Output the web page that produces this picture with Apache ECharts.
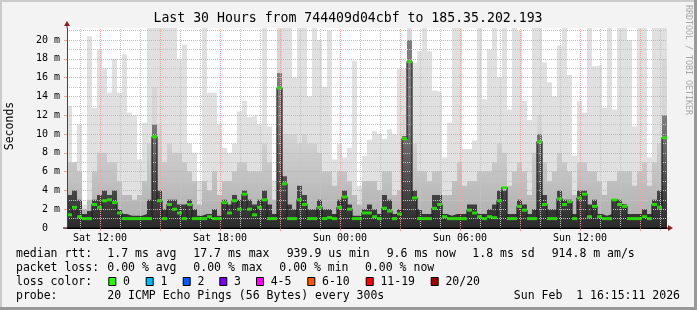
<!DOCTYPE html>
<html><head><meta charset="utf-8">
<script src="https://cdn.jsdelivr.net/npm/echarts@6/dist/echarts.min.js"></script>
<style>html,body{margin:0;padding:0;background:#f3f3f3}#c{width:697px;height:310px}</style>
</head><body><div id="c"></div>
<script>
// ---- data (milliseconds), 15-minute bins starting Sat 10:21 ----
const startHour = 10.35;          // hours since Sat 00:00
const binHours = 0.25;
const yMax = 21.28;
const minRtt = 0.85;
const maxRtt = [
 13,7,11,2.5,20.4,12.8,19,17,14.4,18,14.4,18.5,12.3,12,7.3,11.2,21.5,21.5,21.5,21.5,
 21.5,21.5,18,19.5,9,8,5,21.5,14.4,14.4,11,8.5,8,9,12.4,13.5,11.8,12,11,21.5,
 10.8,5,21.5,21.5,21.5,16,21.5,21.5,14,21.5,20,15,21,7.3,9,7.5,8.5,17.8,4.5,7.7,
 9.4,10.3,10,9.5,10.5,10,16.9,17,21.5,17.6,18.8,21.5,18.8,14.6,14.4,7.5,11.2,21.5,21.5,8.4,
 8.4,9.3,21.5,13.7,19,21.5,16,21.5,12.6,21.5,21,13.5,11.5,21.5,21.5,17.6,15.5,14,19.4,21.5,
 16.3,7.7,13.5,12.3,21.5,17.2,17.4,12.8,21.5,12.6,21.5,21.5,20,10.8,21.5,21.5,7.5,21.5,21.5,21.5
];
const upperRtt = [
 7,7,6,2,3,6,8,8,7,7,5,3.5,3.5,3,3.5,5,9,15,11,7,
 9,8,8,7,6,5,2.5,5,4,6,3.5,5,5,6,7,7,6,6,6,9,
 7,3,21,10,10,10,9,10,9,9,8,6,6,4.5,6,6,5,3.5,2.5,5,
 5,5,4,6,6,3.5,4,12,21,9,6,6,5,6,6,3.5,3.5,5,7,4.5,
 5,5,6,6,6,7,9,8,4.5,6,7,6,3.5,8,12,7,5,6,8,7,
 6,3.5,7,7,6,6,5,3.5,5,5,6,6,6,4.5,6,7,4.5,7,9,18
];
const darkRtt = [
 3.5,4,3,1.5,1.8,3,3.5,4,3.5,4,2,1.5,1.3,1.3,1.3,1.5,3,11,4,2,
 3,3,2.5,2.5,3,2,1.3,1.5,1.5,2,1.3,3,2.5,3.5,3,4,3,2.5,3,4,
 2.5,1.5,16.5,5.5,2.5,2,4.5,3.5,2,2,3,2,2,1.5,3,4,2.5,1.3,1.3,2,
 2.5,2,1.5,3.5,3,1.5,2,9.8,20,4,2,1.5,1.5,3.5,3.5,1.5,1.3,1.5,1.5,1.5,
 2.5,2.5,1.5,1.5,2,2.5,4,4,1.5,1.5,3,2.5,1.5,2,10,3.5,2,2,4,3,
 3,1.5,4,4,2.5,3,1.5,1.3,1.5,3,3,2.5,1.5,1.5,1.5,2,1.5,3,4,12
];
const medianRtt = [
 1.4,2.2,1.2,1.0,1.0,2.5,2.2,2.9,3.0,2.7,1.6,1.0,1.0,1.0,1.0,1.0,1.0,9.7,2.9,1.0,
 2.5,2.0,1.6,1.0,2.5,1.0,1.0,1.0,1.2,1.0,1.0,2.7,1.6,2.9,2.0,3.6,2.0,1.4,2.2,3.0,
 1.0,1.0,14.9,4.7,1.0,1.0,3.0,2.5,1.0,1.0,2.2,1.0,1.1,1.0,2.2,3.3,2.0,1.0,1.0,1.6,
 1.6,1.2,1.0,2.1,1.8,1.0,1.5,9.5,17.7,3.2,1.0,1.0,1.0,2.1,2.5,1.2,1.0,1.0,1.0,1.0,
 1.9,1.6,1.2,1.0,1.2,1.1,2.9,4.3,1.0,1.0,2.3,1.9,1.0,1.0,9.2,2.5,1.0,1.0,3.1,2.5,
 2.8,1.0,3.2,3.6,1.2,2.3,1.2,1.0,1.0,3.0,2.5,2.3,1.0,1.0,1.0,1.2,1.0,2.5,2.2,9.6
];
const yTickValues = [0,2,4,6,8,10,12,14,16,18,20];
const xLabelHours = [12,18,24,30,36];
const xLabelTexts = ['Sat 12:00','Sat 18:00','Sun 00:00','Sun 06:00','Sun 12:00'];
const title = 'Last 30 Hours from 744409d04cbf to 185.35.202.193';
const lossLabels = ['0','1','2','3','4-5','6-10','11-19','20/20'];
const lossColors = ['#26ff00','#00b8ff','#0059ff','#7e00ff','#ff00ff','#ff5500','#ff0000','#a10000'];

// ---- build ----
const endHour = startHour + maxRtt.length * binHours;
function stepData(arr){
  const d = arr.map((v,i)=>[startHour + i*binHours, v]);
  d.push([endHour, arr[arr.length-1]]);
  return d;
}
function areaSeries(arr, color, z){
  return {type:'line', step:'end', data:stepData(arr), symbol:'none', showSymbol:false,
    lineStyle:{width:0}, areaStyle:{color, opacity:1}, z, silent:true};
}
function vGrad(yBottom, yTop, c0, c1){
  return {type:'linear', x:0, y:yBottom, x2:0, y2:yTop, global:true,
    colorStops:[{offset:0, color:c0},{offset:1, color:c1}]};
}
const hourTicks = [], majorTicks = [];
for (let h = Math.ceil(startHour); h <= endHour; h++) { hourTicks.push(h); if (h % 3 === 0) majorTicks.push(h); }
const gridLines = [];
const red = '#f4a0a0', gray = '#c4c4c4';
for (let v = 1; v < yMax; v++) gridLines.push({yAxis:v, lineStyle:{color: v%2===0 ? red : gray, type:[1,1], width:1}});
hourTicks.forEach(h => gridLines.push({xAxis:h, lineStyle:{color: h%3===0 ? red : gray, type:[1,1], width:1}}));

const mono = 'DejaVu Sans Mono';
const chart = echarts.init(document.getElementById('c'));
chart.setOption({
  animation:false,
  backgroundColor:'#f3f3f3',
  grid:{left:67, right:30, top:28, bottom:82, show:true, backgroundColor:'#ffffff', borderWidth:0},
  xAxis:[{
    type:'value', min:startHour, max:endHour, z:10,
    axisLine:{show:true, lineStyle:{color:'#000', width:1}},
    axisTick:{show:true, length:3, lineStyle:{color:red}, customValues:majorTicks},
    axisLabel:{show:true, customValues:xLabelHours, margin:5, color:'#000', fontFamily:mono, fontSize:10,
      formatter:v=>{const k = xLabelHours.indexOf(Math.round(v)); return k>=0 && Math.abs(v-Math.round(v))<1e-6 ? xLabelTexts[k] : '';}},
    splitLine:{show:false}
  },{
    type:'value', min:startHour, max:endHour, position:'bottom', z:9,
    axisLine:{show:false}, axisLabel:{show:false},
    axisTick:{show:true, length:3, lineStyle:{color:gray}, customValues:hourTicks.filter(h=>h%3!==0)},
    splitLine:{show:false}
  }],
  yAxis:{
    type:'value', min:0, max:yMax, interval:2, z:10,
    axisLine:{show:true, lineStyle:{color:'#444'}},
    axisTick:{show:true, length:3, lineStyle:{color:red}, customValues:yTickValues},
    axisLabel:{show:true, customValues:yTickValues, margin:7, color:'#000', fontFamily:mono, fontSize:10,
      formatter:v=> yTickValues.indexOf(v) < 0 ? '' : (v===0 ? '0  ' : v + ' m')},
    splitLine:{show:false}
  },
  series:[
    areaSeries(maxRtt, '#e0e0e0', 2),
    areaSeries(upperRtt, vGrad(228, 130, '#acacac', '#d6d6d6'), 3),
    areaSeries(darkRtt, vGrad(226, 120, '#2c2c2c', '#7c7c7c'), 4),
    {type:'line', data:[[startHour,0]], symbol:'none', showSymbol:false, lineStyle:{width:0}, z:5, silent:true,
      markArea:{silent:true, itemStyle:{color:'#ffffff'}, data:[[{xAxis:startHour, yAxis:0},{xAxis:endHour, yAxis:minRtt}]]}},
    {type:'line', data:[[startHour,0]], symbol:'none', showSymbol:false, lineStyle:{width:0}, z:6, silent:true,
      markLine:{silent:true, symbol:['none','none'], label:{show:false}, animation:false, data:gridLines}},
    {type:'line', step:'end', data:stepData(medianRtt), symbol:'none', showSymbol:false,
      lineStyle:{color:'#202020', width:1.2}, z:7, silent:true},
    {type:'scatter', data:medianRtt.map((v,i)=>[startHour+(i+0.5)*binHours, v]), symbol:'rect', symbolSize:[5,3],
      itemStyle:{color:lossColors[0]}, z:8, silent:true}
  ]
});

// ---- texts & decorations ----
const tl = chart.convertToPixel({gridIndex:0}, [startHour, yMax]);
const br = chart.convertToPixel({gridIndex:0}, [endHour, 0]);
const fs = 11.5;
function txt(x, y, s, extra){ return Object.assign({type:'text', x, y, style:{text:s, fontFamily:mono, fontSize:fs, fill:'#000', textVerticalAlign:'middle', textAlign:'left'}}, extra||{}); }
const g = [];
g.push({type:'rect', shape:{x:0,y:0,width:697,height:2}, style:{fill:'#cbcbcb'}});
g.push({type:'rect', shape:{x:0,y:0,width:2,height:310}, style:{fill:'#cbcbcb'}});
g.push({type:'rect', shape:{x:0,y:307,width:697,height:3}, style:{fill:'#999999'}});
g.push({type:'rect', shape:{x:694,y:0,width:3,height:310}, style:{fill:'#999999'}});
g.push({type:'text', x:348, y:19, style:{text:title, fontFamily:mono, fontSize:13.2, fill:'#000', textAlign:'center', textVerticalAlign:'middle'}});
g.push({type:'text', x:10.5, y:126, rotation:Math.PI/2, style:{text:'Seconds', fontFamily:mono, fontSize:fs, fill:'#000', textAlign:'center', textVerticalAlign:'middle'}});
g.push({type:'text', x:688.5, y:60, rotation:-Math.PI/2, style:{text:'RRDTOOL / TOBI OETIKER', fontFamily:mono, fontSize:8.3, fill:'#a8a8a8', textAlign:'center', textVerticalAlign:'middle'}});
// arrows
g.push({type:'polygon', shape:{points:[[tl[0]-3, tl[1]-2],[tl[0]+3, tl[1]-2],[tl[0], tl[1]-7]]}, style:{fill:'#8f1d1d'}, z:20});
g.push({type:'line', shape:{x1:tl[0], y1:tl[1]-2, x2:tl[0], y2:tl[1]}, style:{stroke:'#444', lineWidth:1}, z:20});
g.push({type:'polygon', shape:{points:[[br[0]+1, br[1]-3],[br[0]+1, br[1]+3],[br[0]+6, br[1]]]}, style:{fill:'#8f1d1d'}, z:20});
g.push({type:'line', shape:{x1:tl[0]-4, y1:br[1], x2:br[0]+1, y2:br[1]}, style:{stroke:'#000', lineWidth:1}, z:20});
// legend rows
const r1 = 254.3, r2 = 268.3, r3 = 282, r4 = 296;
[[16,'median rtt:'],[107.3,'1.7 ms avg'],[193.3,'17.7 ms max'],[286.7,'939.9 us min'],[386.7,'9.6 ms now'],[472.3,'1.8 ms sd'],[551.7,'914.8 m am/s']]
  .forEach(([x,s])=>g.push(txt(x,r1,s)));
[[16,'packet loss:'],[107.3,'0.00 % avg'],[193.3,'0.00 % max'],[279.3,'0.00 % min'],[365,'0.00 % now']]
  .forEach(([x,s])=>g.push(txt(x,r2,s)));
g.push(txt(16,r3,'loss color:'));
const boxX = [108.3,145.7,182.7,219.3,256,307.3,365.7,430.7];
lossLabels.forEach((s,i)=>{
  g.push({type:'rect', shape:{x:boxX[i]+0.5, y:r3-4.5, width:7, height:8}, style:{fill:lossColors[i], stroke:'#000', lineWidth:1}});
  g.push(txt(boxX[i]+14.7, r3, s));
});
g.push(txt(16,r4,'probe:'));
g.push(txt(107.3,r4,'20 ICMP Echo Pings (56 Bytes) every 300s'));
g.push(txt(680,r4,'Sun Feb  1 16:15:11 2026',{style:{text:'Sun Feb  1 16:15:11 2026', fontFamily:mono, fontSize:fs, fill:'#000', textVerticalAlign:'middle', textAlign:'right'}}));
chart.setOption({graphic:g});
</script></body></html>
